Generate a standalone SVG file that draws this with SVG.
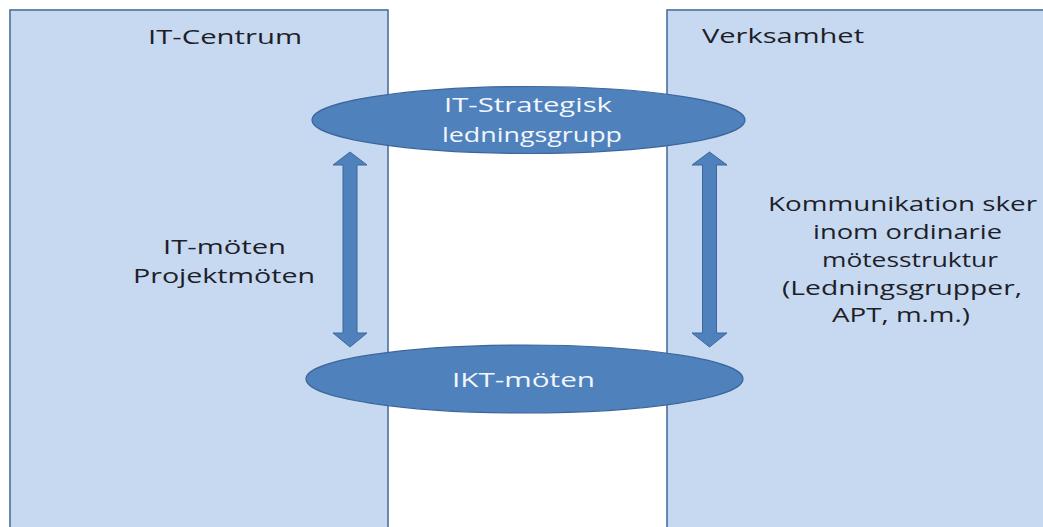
<svg xmlns="http://www.w3.org/2000/svg" width="1043" height="527" viewBox="0 0 1043 527">
<style>
.panel{fill:#c6d9f0;stroke:#4a6e9e;stroke-width:1.6}
.oval{fill:#4f81bd;stroke:#3d679a;stroke-width:1.2}
.arrow{fill:#4f81bd;stroke:#3d679a;stroke-width:1}
.dark{font-family:"Open Sans","Liberation Sans",sans-serif;font-size:20px;fill:#1e1e2a}
.light{font-family:"Open Sans","Liberation Sans",sans-serif;font-size:20px;fill:#f2f6fb}
</style>
<rect width="1043" height="527" fill="#ffffff"/>
<g id="it-centrum">
<rect class="panel" x="10" y="10" width="378" height="530"/>
<text class="dark" x="148" y="44" textLength="154" lengthAdjust="spacingAndGlyphs">IT-Centrum</text>
</g>
<g id="verksamhet">
<rect class="panel" x="667" y="10" width="400" height="530"/>
<text class="dark" x="702" y="43" textLength="162" lengthAdjust="spacingAndGlyphs">Verksamhet</text>
</g>
<g id="it-strategisk">
<ellipse class="oval" cx="528.5" cy="120" rx="216.5" ry="33.5"/>
<text class="light" x="444" y="112" textLength="168" lengthAdjust="spacingAndGlyphs">IT-Strategisk</text>
<text class="light" x="442" y="142" textLength="180" lengthAdjust="spacingAndGlyphs">ledningsgrupp</text>
</g>
<g id="ikt-moten">
<ellipse class="oval" cx="524.5" cy="379" rx="218.5" ry="34"/>
<text class="light" x="452" y="387" textLength="143" lengthAdjust="spacingAndGlyphs">IKT-möten</text>
</g>
<g id="left-label">
<text class="dark" x="163" y="254" textLength="123" lengthAdjust="spacingAndGlyphs">IT-möten</text>
<text class="dark" x="133" y="283" textLength="182" lengthAdjust="spacingAndGlyphs">Projektmöten</text>
</g>
<g id="right-label">
<text class="dark" x="768" y="211" textLength="269" lengthAdjust="spacingAndGlyphs">Kommunikation sker</text>
<text class="dark" x="813" y="239" textLength="189" lengthAdjust="spacingAndGlyphs">inom ordinarie</text>
<text class="dark" x="822" y="267" textLength="176" lengthAdjust="spacingAndGlyphs">mötesstruktur</text>
<text class="dark" x="782" y="295" textLength="240" lengthAdjust="spacingAndGlyphs">(Ledningsgrupper,</text>
<text class="dark" x="832" y="322" textLength="138" lengthAdjust="spacingAndGlyphs">APT, m.m.)</text>
</g>
<g id="connectors">
<polygon class="arrow" points="350,152 367,165 357,165 357,333 367,333 350,347 333,333 343,333 343,165 333,165"/>
<polygon class="arrow" points="709.5,152 727,165 716.5,165 716.5,333 727,333 709.5,347 692,333 702.5,333 702.5,165 692,165"/>
</g>
</svg>
